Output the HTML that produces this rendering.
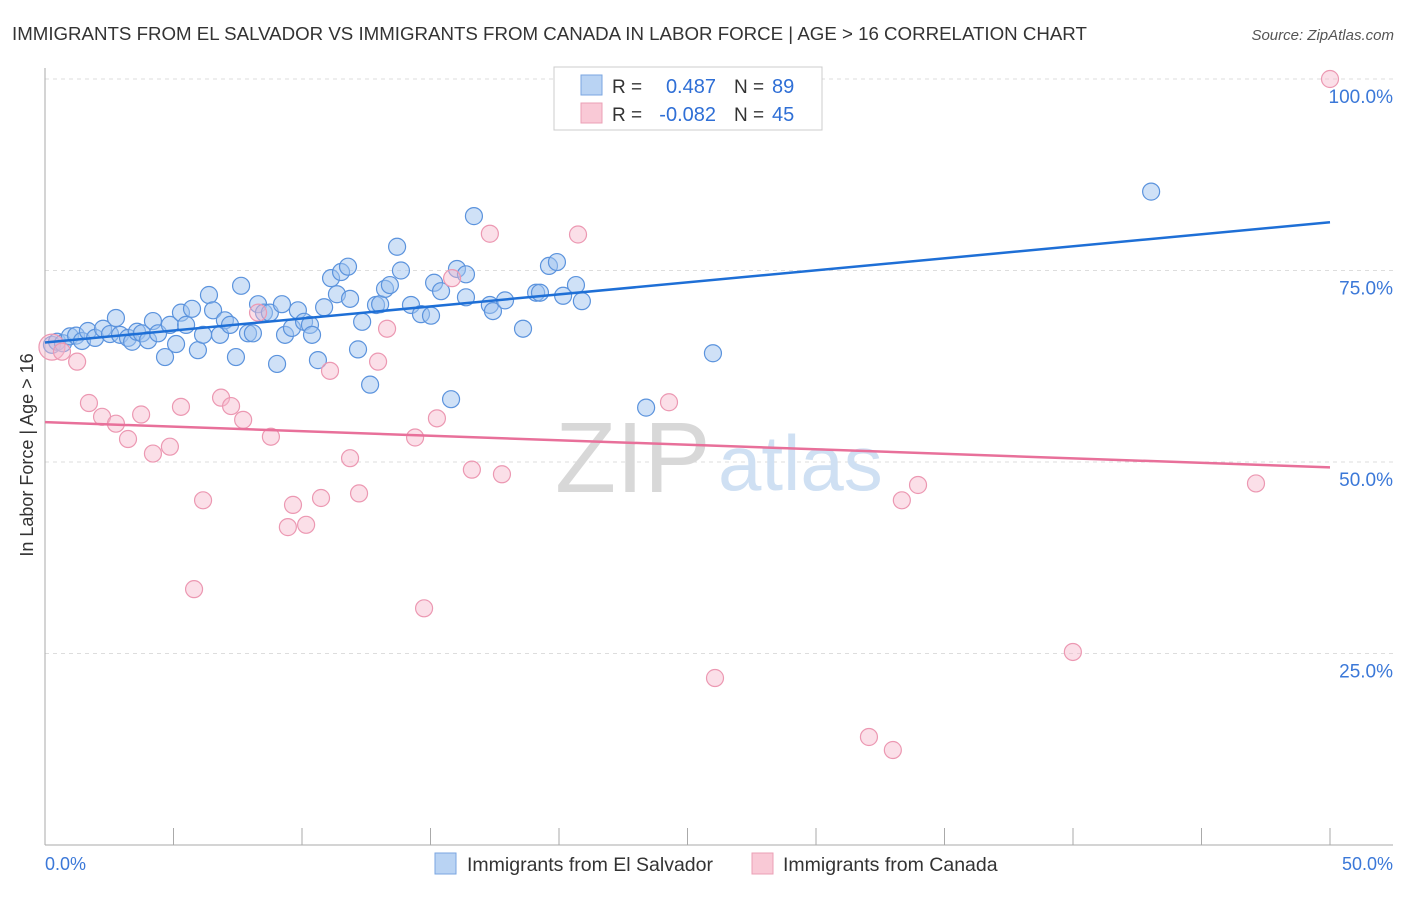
<!DOCTYPE html>
<html><head><meta charset="utf-8"><style>
body{margin:0;background:#fff;font-family:"Liberation Sans",sans-serif;}
svg text{font-family:"Liberation Sans",sans-serif;}
</style></head><body>
<svg id="c" width="1406" height="892" xmlns="http://www.w3.org/2000/svg">
<text x="12" y="40" font-size="18.7" fill="#333">IMMIGRANTS FROM EL SALVADOR VS IMMIGRANTS FROM CANADA IN LABOR FORCE | AGE &gt; 16 CORRELATION CHART</text>
<text x="1394" y="40" font-size="15" fill="#555" font-style="italic" text-anchor="end">Source: ZipAtlas.com</text>
<g id="grid"></g>
<text x="555" y="492" font-size="100" fill="#d8d8d8" font-family="Liberation Serif">ZIP</text>
<text x="718" y="490" font-size="78" fill="#cfe0f3">atlas</text>
<g id="pts"></g>
<text x="33" y="455" font-size="18" fill="#333" text-anchor="middle" transform="rotate(-90 33 455)">In Labor Force | Age &gt; 16</text>
<text x="45" y="870" font-size="18" fill="#3b78d8">0.0%</text>
<text x="1393" y="870" font-size="18" fill="#3b78d8" text-anchor="end">50.0%</text>
<g>
<rect x="554" y="67" width="268" height="63" fill="#fff" stroke="#ccc"/>
<rect x="581" y="75" width="21" height="20" fill="#b9d3f3" stroke="#7aa6e0"/>
<rect x="581" y="103" width="21" height="20" fill="#f9c9d6" stroke="#eba0b6"/>
<text x="612" y="93" font-size="19" fill="#333">R =</text>
<text x="716" y="93" font-size="20" fill="#2f6fd6" text-anchor="end">0.487</text>
<text x="734" y="93" font-size="19" fill="#333">N =</text>
<text x="772" y="93" font-size="20" fill="#2f6fd6">89</text>
<text x="612" y="121" font-size="19" fill="#333">R =</text>
<text x="716" y="121" font-size="20" fill="#2f6fd6" text-anchor="end">-0.082</text>
<text x="734" y="121" font-size="19" fill="#333">N =</text>
<text x="772" y="121" font-size="20" fill="#2f6fd6">45</text>
</g>
<g>
<rect x="435" y="853" width="21" height="21" fill="#b9d3f3" stroke="#7aa6e0"/>
<text x="467" y="871" font-size="19.5" fill="#333">Immigrants from El Salvador</text>
<rect x="752" y="853" width="21" height="21" fill="#f9c9d6" stroke="#eba0b6"/>
<text x="783" y="871" font-size="19.5" fill="#333">Immigrants from Canada</text>
</g>
</svg>
<script>
const yTicks=[25,50,75,100];
const xTicks=[5,10,15,20,25,30,35,40,45,50];
const blueX=[0.27,0.47,0.7,0.97,1.21,1.44,1.67,1.95,2.26,2.53,2.76,2.92,3.23,3.39,3.58,3.77,4.01,4.2,4.4,4.67,4.86,5.1,5.29,5.49,5.72,5.95,6.15,6.38,6.54,6.81,7.0,7.2,7.43,7.63,7.9,8.09,8.29,8.52,8.75,9.03,9.22,9.34,9.61,9.84,10.08,10.31,10.39,10.62,10.86,11.13,11.36,11.52,11.79,11.87,12.18,12.34,12.65,12.88,13.04,13.23,13.42,13.7,13.85,14.24,14.63,15.02,15.14,15.41,15.8,16.03,16.38,16.38,16.69,17.31,17.43,17.9,18.6,19.11,19.26,19.61,19.92,20.16,20.66,20.89,23.39,25.99,43.04];
const blueY=[65.3,65.7,65.5,66.4,66.5,65.8,67.1,66.2,67.4,66.7,68.8,66.6,66.2,65.7,67.0,66.8,65.9,68.4,66.8,63.7,67.9,65.4,69.5,67.9,70.0,64.6,66.6,71.8,69.8,66.6,68.5,67.9,63.7,73.0,66.8,66.8,70.6,69.5,69.5,62.8,70.6,66.6,67.5,69.8,68.3,67.9,66.6,63.3,70.2,74.0,71.9,74.8,75.5,71.3,64.7,68.3,60.1,70.5,70.6,72.6,73.1,78.1,75.0,70.5,69.3,69.1,73.4,72.3,58.2,75.2,74.5,71.5,82.1,70.5,69.7,71.1,67.4,72.1,72.1,75.6,76.1,71.7,73.1,71.0,57.1,64.2,85.3];
const pinkX=[0.27,0.66,1.25,1.71,2.22,2.76,3.23,3.74,4.2,4.86,5.29,6.15,5.8,6.85,7.24,7.71,8.29,8.79,9.45,9.65,10.16,10.74,11.09,11.87,12.22,12.96,13.31,14.4,14.75,15.25,15.84,16.61,17.31,17.78,20.74,24.28,26.07,32.06,32.99,33.34,33.97,39.995,47.12,50.0];
const pinkY=[65.0,64.4,63.1,57.7,55.9,55.0,53.0,56.2,51.1,52.0,57.2,45.0,33.4,58.4,57.3,55.5,69.5,53.3,41.5,44.4,41.8,45.3,61.9,50.5,45.9,63.1,67.4,53.2,30.9,55.7,74.0,49.0,79.8,48.4,79.7,57.8,21.8,14.1,12.4,45.0,47.0,25.2,47.2,100];
const blueLine=[65.6,81.3], pinkLine=[55.2,49.3];
const NS="http://www.w3.org/2000/svg";
const X=v=>45+v*25.7, Y=v=>845-v*7.66;
const grid=document.getElementById('grid'), pts=document.getElementById('pts');
function mk(tag,at,par){const e=document.createElementNS(NS,tag);for(const k in at)e.setAttribute(k,at[k]);par.appendChild(e);return e;}
yTicks.forEach(t=>{
 const l=mk('line',{x1:45,x2:1393,y1:Y(t),y2:Y(t),stroke:'#ddd','stroke-dasharray':'4 4'},grid);
 
 
 const tx=mk('text',{x:1393,y:Y(t)+24,'font-size':19,fill:'#3b78d8','text-anchor':'end'},grid);
 tx.textContent=t.toFixed(1)+'%';
 
 
});
const ax=mk('line',{x1:45,x2:1393,y1:845,y2:845,stroke:'#aaa'},grid);


const ay=mk('line',{x1:45,x2:45,y1:68,y2:845,stroke:'#aaa'},grid);


xTicks.forEach(t=>{
 const l=mk('line',{x1:X(t),x2:X(t),y1:828,y2:845,stroke:'#aaa'},grid);
 
 
});
blueX.forEach((x,i)=>{
 const c=mk('circle',{cx:X(x),cy:Y(blueY[i]),r:8.5,fill:'rgba(160,196,240,0.5)',stroke:'#5b93dd','stroke-width':1.2},pts);
 
 
});
pinkX.forEach((x,i)=>{
 const c=mk('circle',{cx:X(x),cy:Y(pinkY[i]),r:i==0?13:8.5,fill:'rgba(247,185,204,0.45)',stroke:'#ec98b2','stroke-width':1.2},pts);
 
 
});
const bl=mk('line',{x1:X(0),x2:X(50),y1:Y(blueLine[0]),y2:Y(blueLine[1]),stroke:'#1e6fd6','stroke-width':2.5},pts);


const pl=mk('line',{x1:X(0),x2:X(50),y1:Y(pinkLine[0]),y2:Y(pinkLine[1]),stroke:'#e8709a','stroke-width':2.5},pts);


</script>
</body></html>
